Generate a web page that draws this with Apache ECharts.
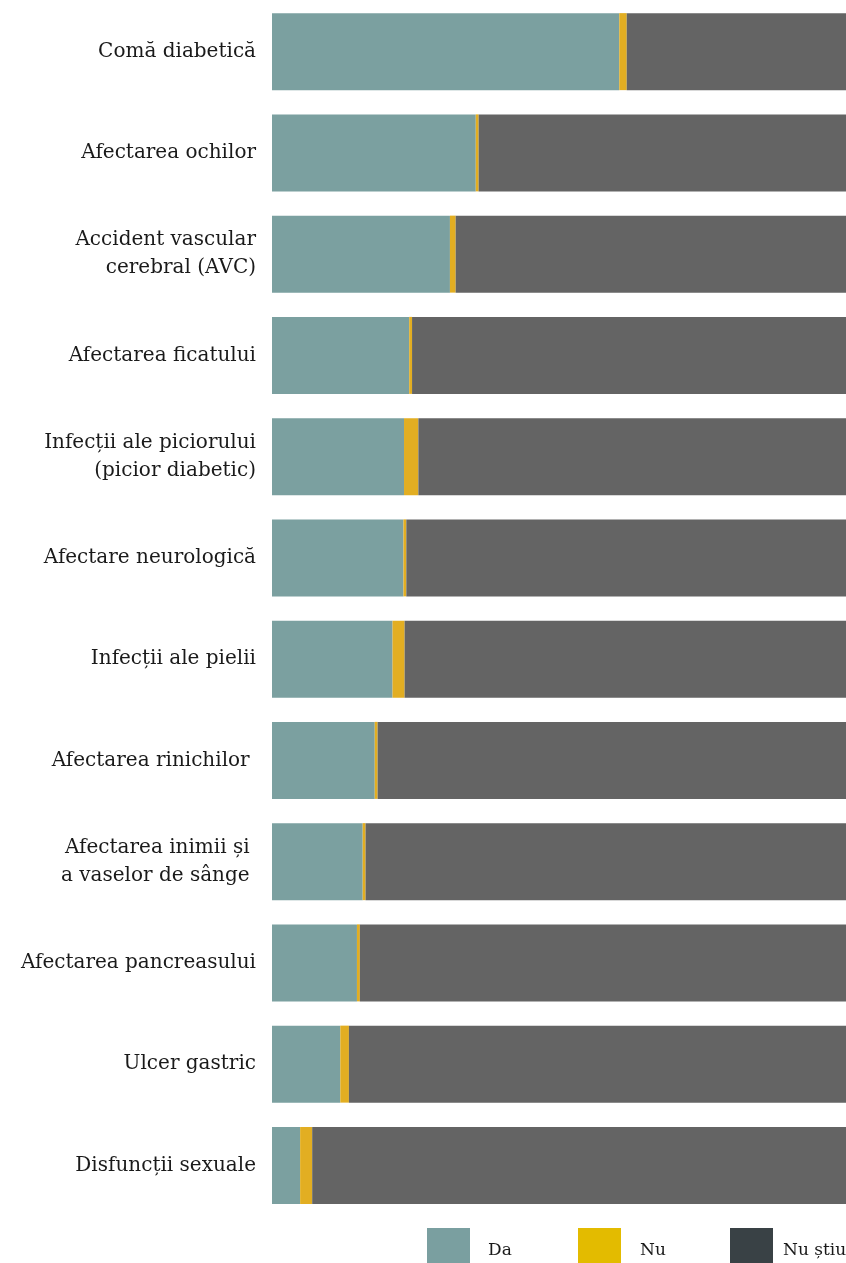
<!DOCTYPE html>
<html>
<head>
<meta charset="utf-8">
<script src="https://cdn.jsdelivr.net/npm/echarts@6/dist/echarts.min.js"></script>
<style>
html,body{margin:0;padding:0;background:#fff;}
#chart{width:846px;height:1263px;}
</style>
</head>
<body>
<div id="chart"></div>
<script>
const categories = [
  "Comă diabetică",
  "Afectarea ochilor",
  "Accident vascular\ncerebral (AVC)",
  "Afectarea ficatului",
  "Infecții ale piciorului\n(picior diabetic)",
  "Afectare neurologică",
  "Infecții ale pielii",
  "Afectarea rinichilor ",
  "Afectarea inimii și \na vaselor de sânge ",
  "Afectarea pancreasului",
  "Ulcer gastric",
  "Disfuncții sexuale"
];
const seriesNames = ["Da", "Nu", "Nu știu"];
const da = [60.5, 35.5, 31.0, 23.9, 23.0, 22.9, 21.0, 17.9, 15.8, 14.8, 11.9, 4.9];
const nu = [1.3, 0.5, 1.0, 0.5, 2.5, 0.5, 2.1, 0.5, 0.5, 0.5, 1.5, 2.1];
const nuStiu = da.map((d, i) => +(100 - d - nu[i]).toFixed(1));

const barColors = ["#7ba0a0", "#e2ae22", "#646464"];
const legendColors = ["#7a9fa0", "#e3bb00", "#394145"];
const font = "'DejaVu Serif', 'Liberation Serif', serif";

const chart = echarts.init(document.getElementById('chart'), null, {renderer: 'canvas'});
const values = [da, nu, nuStiu];
const legendLefts = [427, 578, 730];
const legendTextGap = [13, 14, 5];

chart.setOption({
  animation: false,
  backgroundColor: '#ffffff',
  grid: {left: 272, right: 0, top: 1, height: 1215, containLabel: false},
  xAxis: {
    type: 'value', min: 0, max: 100,
    show: false
  },
  yAxis: {
    type: 'category',
    data: categories,
    inverse: true,
    axisLine: {show: false},
    axisTick: {show: false},
    splitLine: {show: false},
    axisLabel: {
      margin: 16,
      color: '#1a1a1a',
      fontFamily: font,
      fontSize: 20,
      lineHeight: 28,
      align: 'right'
    }
  },
  legend: seriesNames.map((n, i) => ({
    left: legendLefts[i],
    top: 1228,
    padding: 0,
    itemWidth: 43,
    itemHeight: 35,
    icon: 'rect',
    selectedMode: false,
    formatter: name => '\n' + name,
    data: [{name: n, itemStyle: {color: legendColors[i], borderWidth: 0}}],
    textStyle: {fontFamily: font, fontSize: 17, lineHeight: 10, color: '#1a1a1a', padding: [0, 0, 0, legendTextGap[i]]}
  })),
  series: seriesNames.map((n, i) => ({
    name: n,
    type: 'bar',
    stack: 'total',
    barWidth: 77,
    data: values[i],
    itemStyle: {color: barColors[i]},
    emphasis: {disabled: true}
  }))
});
</script>
</body>
</html>
